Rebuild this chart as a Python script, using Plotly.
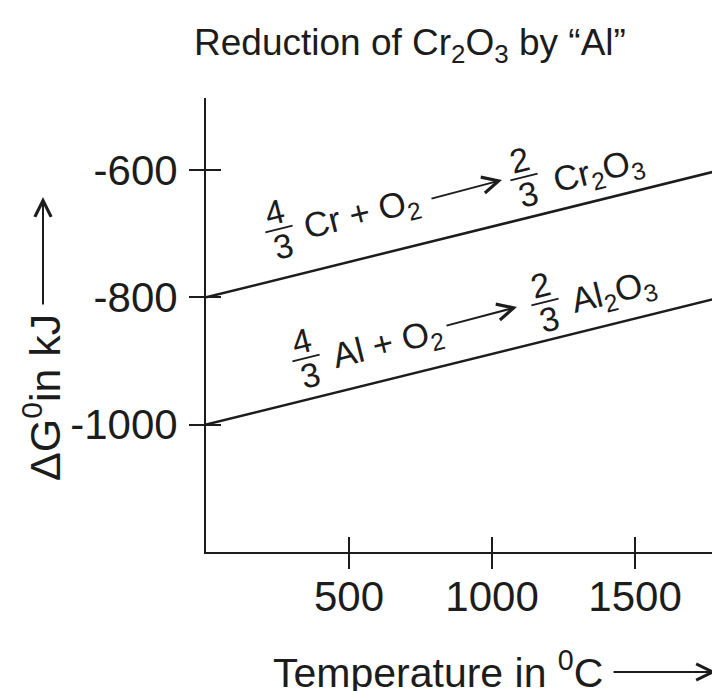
import math
import plotly.graph_objects as go

# ---- data ----
temperature = [0, 1800]          # °C
dg_cr = [-800, -600]             # 4/3 Cr + O2 -> 2/3 Cr2O3
dg_al = [-1000, -800]            # 4/3 Al + O2 -> 2/3 Al2O3
x_ticks = [500, 1000, 1500]
y_ticks = [-600, -800, -1000]

# ---- layout geometry ----
W, H = 720, 691
OFF = 8                      # page body margin
L, R, T, B = 198, 12, 90, 147
X_RANGE = [0, 1783]
Y_RANGE = [-1200, -487]
FONT = "Liberation Sans, Arial, Helvetica, sans-serif"
INK = "#1c1c1c"


def pxp(x):
    return (x - OFF - L) / (W - L - R)


def pyp(y):
    return (H - B - (y - OFF)) / (H - T - B)


fig = go.Figure()
line_style = dict(color=INK, width=2.5)
fig.add_trace(go.Scatter(x=temperature, y=dg_cr, mode="lines", line=line_style,
                         showlegend=False, hoverinfo="skip", cliponaxis=True))
fig.add_trace(go.Scatter(x=temperature, y=dg_al, mode="lines", line=line_style,
                         showlegend=False, hoverinfo="skip", cliponaxis=True))
# helper trace so the overlay axes (inner half of the crossing ticks) exist
fig.add_trace(go.Scatter(x=[x_ticks[0]], y=[y_ticks[0]], xaxis="x2", yaxis="y2",
                         mode="markers", marker=dict(opacity=0),
                         showlegend=False, hoverinfo="skip"))

annotations = []
shapes = []


def text_ann(x, y, text, size, angle=0):
    annotations.append(dict(xref="paper", yref="paper", x=pxp(x), y=pyp(y),
                            text=text, showarrow=False, textangle=angle,
                            xanchor="center", yanchor="middle",
                            font=dict(family=FONT, size=size, color=INK)))


def arrow_ann(x0, y0, x1, y1, width=2, size=1.6):
    annotations.append(dict(xref="paper", yref="paper", x=pxp(x1), y=pyp(y1),
                            ax=x0 - x1, ay=y0 - y1, axref="pixel", ayref="pixel",
                            text="", showarrow=True, arrowhead=5,
                            arrowsize=size, arrowwidth=width, arrowcolor=INK,
                            standoff=0, startstandoff=0))


ANG = -14
EQ = 35
FR = 34
CA, SA = math.cos(math.radians(-ANG)), math.sin(math.radians(-ANG))


def fraction(cx, cy, num, den, half=14, gap=18):
    # numerator / denominator stacked perpendicular to the slanted baseline
    text_ann(cx - gap * SA, cy - gap * CA, str(num), FR, ANG)
    text_ann(cx + gap * SA, cy + gap * CA, str(den), FR, ANG)
    shapes.append(dict(type="line", xref="paper", yref="paper",
                       x0=pxp(cx - half * CA), y0=pyp(cy + half * SA),
                       x1=pxp(cx + half * CA), y1=pyp(cy - half * SA),
                       line=dict(color=INK, width=2)))


# title
text_ann(410, 45, "Reduction of Cr<sub>2</sub>O<sub>3</sub> by \u201cAl\u201d", 37)

# Cr equation
fraction(279, 229, 4, 3)
text_ann(362, 215, "Cr + O<sub>2</sub>", EQ, ANG)
arrow_ann(430, 199, 502, 180)
fraction(524, 177, 2, 3)
text_ann(598, 172, "Cr<sub>2</sub>O<sub>3</sub>", EQ, ANG)

# Al equation
fraction(306, 358, 4, 3)
text_ann(388, 345, "Al + O<sub>2</sub>", EQ, ANG)
arrow_ann(445, 326, 517, 307)
fraction(545, 302, 2, 3)
text_ann(614, 293, "Al<sub>2</sub>O<sub>3</sub>", EQ, ANG)

# axis titles
text_ann(42, 398, "\u0394G<sup>0</sup>in kJ", 43, -90)
arrow_ann(43, 306, 43, 197)
text_ann(438, 670, "Temperature in <sup>0</sup>C", 41)
arrow_ann(612, 672, 716, 672)

axis_common = dict(showgrid=False, zeroline=False, showline=True, linecolor=INK,
                   linewidth=2, tickcolor=INK, tickwidth=2, ticklen=15,
                   tickfont=dict(family=FONT, size=42, color=INK))

fig.update_layout(
    width=W, height=H,
    margin=dict(l=L, r=R, t=T, b=B, pad=0),
    paper_bgcolor="white", plot_bgcolor="white",
    showlegend=False,
    xaxis=dict(range=X_RANGE, tickmode="array", tickvals=x_ticks,
               ticktext=[str(v) for v in x_ticks], ticks="outside",
               ticklabelstandoff=-8, **axis_common),
    yaxis=dict(range=Y_RANGE, tickmode="array", tickvals=y_ticks,
               ticktext=[str(v) for v in y_ticks], ticks="outside",
               ticklabelstandoff=3, **axis_common),
    xaxis2=dict(range=X_RANGE, overlaying="x", anchor="y2", side="bottom",
                tickmode="array", tickvals=x_ticks, ticks="inside",
                showticklabels=False, showline=False, showgrid=False,
                zeroline=False, ticklen=15, tickwidth=2, tickcolor=INK),
    yaxis2=dict(range=Y_RANGE, overlaying="y", anchor="x2", side="left",
                tickmode="array", tickvals=y_ticks, ticks="inside",
                showticklabels=False, showline=False, showgrid=False,
                zeroline=False, ticklen=15, tickwidth=2, tickcolor=INK),
    annotations=annotations,
    shapes=shapes,
)

fig.write_html("out.html")
